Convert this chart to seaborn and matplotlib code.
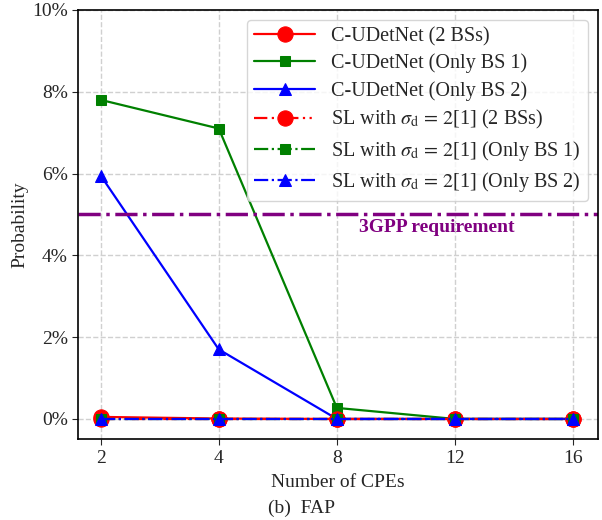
import matplotlib
matplotlib.use("Agg")
import matplotlib.pyplot as plt
import seaborn as sns
import pandas as pd
from matplotlib.ticker import FuncFormatter

# Number of CPEs (plotted at evenly spaced positions)
cpes = [2, 4, 8, 12, 16]

# False-alarm probability in percent
cudet_2bs = [0.05, 0.01, 0.0, 0.0, 0.0]
cudet_bs1 = [7.8, 7.1, 0.27, 0.0, 0.0]
cudet_bs2 = [5.95, 1.7, 0.0, 0.0, 0.0]
sl_2bs = [0.0, 0.0, 0.0, 0.0, 0.0]
sl_bs1 = [0.0, 0.0, 0.0, 0.0, 0.0]
sl_bs2 = [0.0, 0.0, 0.0, 0.0, 0.0]
requirement = 5.0

sns.set_style("ticks")
plt.rcParams["font.family"] = ["Liberation Serif", "DejaVu Serif"]
plt.rcParams["mathtext.fontset"] = "stix"

fig = plt.figure(figsize=(6.02, 5.2), dpi=100)
ax = fig.add_axes([0.13, 0.155, 0.863, 0.826])

pos = list(range(len(cpes)))
series = [
    ("C-UDetNet (2 BSs)", cudet_2bs, "red", "o", 11, "-"),
    ("C-UDetNet (Only BS 1)", cudet_bs1, "green", "s", 7, "-"),
    ("C-UDetNet (Only BS 2)", cudet_bs2, "blue", "^", 8, "-"),
    (r"SL with $\sigma_{\rm d}\,=\,2$[1] (2 BSs)", sl_2bs, "red", "o", 11, (0, (6, 2, 1, 2, 1, 2))),
    (r"SL with $\sigma_{\rm d}\,=\,2$[1] (Only BS 1)", sl_bs1, "green", "s", 7, "-."),
    (r"SL with $\sigma_{\rm d}\,=\,2$[1] (Only BS 2)", sl_bs2, "blue", "^", 8, "-."),
]
for label, vals, color, marker, ms, ls in series:
    df = pd.DataFrame({"pos": pos, "val": vals})
    sns.lineplot(data=df, x="pos", y="val", ax=ax, color=color, marker=marker,
                 markersize=ms, markeredgecolor=color, linestyle=ls,
                 linewidth=1.6, label=label)

ax.axhline(requirement, color="purple", linestyle="-.", linewidth=2.5)
ax.text(2.85, requirement - 0.1, "3GPP requirement", color="purple",
        fontsize=14, fontweight="bold", ha="center", va="top")

ax.set_xlim(-0.19, 4.21)
ax.set_ylim(-0.5, 10)
ax.set_xticks(pos)
ax.set_xticklabels([str(c) for c in cpes])
ax.set_yticks([0, 2, 4, 6, 8, 10])
ax.yaxis.set_major_formatter(FuncFormatter(lambda v, _: f"{v:.0f}%"))
ax.tick_params(labelsize=14, direction="out", length=4)
ax.set_xlabel("Number of CPEs", fontsize=14, labelpad=5)
ax.set_ylabel("Probability", fontsize=14, labelpad=3)
ax.grid(True, linestyle="--", color="#d0d0d0", linewidth=1)
for s in ax.spines.values():
    s.set_linewidth(1.2)
    s.set_color("black")

leg = ax.legend(loc="upper right", fontsize=14.5, frameon=True, handlelength=3.0,
                borderpad=0.35, labelspacing=0.37, borderaxespad=0.5)
leg.get_frame().set_edgecolor("#cccccc")

fig.text(0.5, 0.023, "(b)  FAP", ha="center", va="center", fontsize=14)

fig.savefig("out.png", dpi=100)
